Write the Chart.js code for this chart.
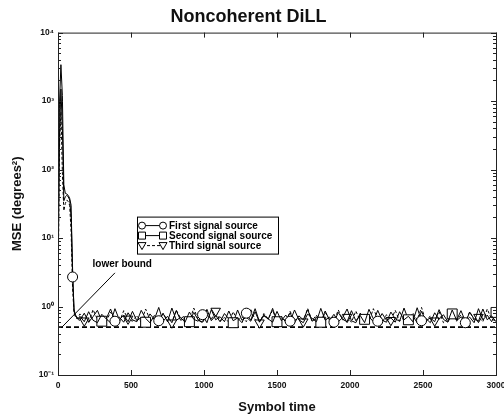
<!DOCTYPE html>
<html>
<head>
<meta charset="utf-8">
<script src="https://cdn.jsdelivr.net/npm/chart.js@4.4.0/dist/chart.umd.min.js"></script>
<style>
  html, body { margin: 0; padding: 0; background: #fff; }
</style>
</head>
<body>
<canvas id="mse" width="504" height="416"></canvas>
<script>
// symbol times: every 10 symbols during acquisition, then every 30
const symbolTime = [
  0, 10, 20, 30, 40, 50, 60, 70, 80, 90, 100, 110, 120, 130, 140,
  150, 180, 210, 240, 270, 300, 330, 360, 390, 420, 450, 480,
  510, 540, 570, 600, 630, 660, 690, 720, 750, 780, 810, 840,
  870, 900, 930, 960, 990, 1020, 1050, 1080, 1110, 1140, 1170, 1200,
  1230, 1260, 1290, 1320, 1350, 1380, 1410, 1440, 1470, 1500, 1530, 1560,
  1590, 1620, 1650, 1680, 1710, 1740, 1770, 1800, 1830, 1860, 1890, 1920,
  1950, 1980, 2010, 2040, 2070, 2100, 2130, 2160, 2190, 2220, 2250, 2280,
  2310, 2340, 2370, 2400, 2430, 2460, 2490, 2520, 2550, 2580, 2610, 2640,
  2670, 2700, 2730, 2760, 2790, 2820, 2850, 2880, 2910, 2940, 2970, 3000
];

// MSE (degrees^2)
const firstSource = [
  4, 900, 3400, 1200, 60, 45, 44, 42, 38, 30, 2.7, 0.9, 0.75, 0.7, 0.66,
  0.72, 0.60, 0.84, 0.63, 0.58, 0.77, 0.66, 0.92, 0.61, 0.70, 0.59, 0.81,
  0.64, 0.60, 0.88, 0.67, 0.58, 0.74, 0.62, 0.79, 0.60, 0.95, 0.63, 0.69,
  0.59, 0.83, 0.65, 0.61, 0.76, 0.58, 0.90, 0.64, 0.71, 0.60, 0.86, 0.62,
  0.68, 0.58, 0.80, 0.63, 0.93, 0.60, 0.73, 0.66, 0.59, 0.85, 0.62, 0.75,
  0.61, 0.89, 0.64, 0.58, 0.78, 0.67, 0.60, 0.94, 0.63, 0.70, 0.59, 0.82,
  0.65, 0.60, 0.87, 0.62, 0.74, 0.58, 0.91, 0.66, 0.61, 0.79, 0.63, 0.68,
  0.59, 0.84, 0.64, 0.72, 0.60, 0.96, 0.62, 0.67, 0.58, 0.81, 0.65, 0.76,
  0.60, 0.89, 0.63, 0.70, 0.58, 0.83, 0.66, 0.61, 0.92, 0.64, 0.73, 0.60
];
const secondSource = [
  2, 300, 1500, 400, 35, 40, 42, 40, 36, 20, 3.5, 0.85, 0.72, 0.68, 0.64,
  0.63, 0.80, 0.59, 0.71, 0.88, 0.61, 0.66, 0.58, 0.93, 0.64, 0.75, 0.60,
  0.85, 0.62, 0.69, 0.59, 0.78, 0.65, 0.97, 0.61, 0.72, 0.58, 0.87, 0.63,
  0.67, 0.60, 0.82, 0.64, 0.59, 0.91, 0.62, 0.74, 0.60, 0.79, 0.66, 0.58,
  0.89, 0.63, 0.70, 0.61, 0.84, 0.59, 0.76, 0.65, 0.94, 0.60, 0.68, 0.62,
  0.81, 0.58, 0.73, 0.64, 0.90, 0.61, 0.67, 0.59, 0.86, 0.63, 0.77, 0.60,
  0.69, 0.92, 0.62, 0.58, 0.80, 0.65, 0.71, 0.60, 0.88, 0.63, 0.59, 0.83,
  0.66, 0.61, 0.95, 0.64, 0.73, 0.58, 0.85, 0.62, 0.68, 0.60, 0.90, 0.65,
  0.59, 0.78, 0.63, 0.87, 0.61, 0.70, 0.58, 0.93, 0.64, 0.75, 0.60, 0.82
];
const thirdSource = [
  1, 200, 700, 90, 25, 32, 36, 34, 30, 12, 1.8, 0.8, 0.7, 0.66, 0.7,
  0.78, 0.62, 0.58, 0.90, 0.65, 0.70, 0.60, 0.83, 0.63, 0.59, 0.87, 0.66,
  0.61, 0.74, 0.59, 0.92, 0.64, 0.68, 0.60, 0.80, 0.62, 0.58, 0.89, 0.67,
  0.73, 0.60, 0.95, 0.63, 0.58, 0.77, 0.65, 0.86, 0.61, 0.69, 0.59, 0.84,
  0.62, 0.71, 0.60, 0.91, 0.64, 0.58, 0.79, 0.66, 0.88, 0.61, 0.72, 0.59,
  0.85, 0.63, 0.67, 0.60, 0.94, 0.62, 0.75, 0.58, 0.82, 0.65, 0.61, 0.89,
  0.64, 0.70, 0.59, 0.86, 0.62, 0.78, 0.60, 0.93, 0.66, 0.58, 0.76, 0.63,
  0.88, 0.61, 0.69, 0.59, 0.81, 0.64, 0.97, 0.60, 0.73, 0.62, 0.85, 0.58,
  0.67, 0.90, 0.61, 0.76, 0.59, 0.84, 0.63, 0.70, 0.60, 0.92, 0.65, 0.62
];
const lowerBound = 0.5;

const seriesNames = ['First signal source', 'Second signal source', 'Third signal source'];
const xTicks = [0, 500, 1000, 1500, 2000, 2500, 3000];
const yTicks = [0.1, 1, 10, 100, 1000, 10000];
const yTickLabels = ['10\u207B\u00B9', '10\u2070', '10\u00B9', '10\u00B2', '10\u00B3', '10\u2074'];

const FONT = "'Liberation Sans', Arial, sans-serif";

// a marker roughly every 300 symbols, like matlab's sparse markers
function markerIndexes(first) {
  const set = new Set();
  for (let t = first; t <= 3000; t += 300) {
    let best = 0;
    symbolTime.forEach((x, i) => {
      if (Math.abs(x - t) < Math.abs(symbolTime[best] - t)) best = i;
    });
    set.add(best);
  }
  return set;
}

function makeSeries(values, label, style, radius, firstMarker, dash) {
  const marks = markerIndexes(firstMarker);
  return {
    label: label,
    data: symbolTime.map((x, i) => ({ x: x, y: values[i] })),
    borderColor: '#000',
    borderWidth: 1,
    borderDash: dash,
    pointStyle: style,
    pointRotation: style === 'triangle' ? 180 : 0,
    pointRadius: ctx => marks.has(ctx.dataIndex) ? radius : 0,
    pointBackgroundColor: '#fff',
    pointBorderColor: '#000',
    pointBorderWidth: 1
  };
}

// box + inward ticks on all sides
const matlabAxes = {
  id: 'matlabAxes',
  afterDatasetsDraw(chart) {
    const { ctx, chartArea: a, scales: { x, y } } = chart;
    ctx.save();
    ctx.strokeStyle = '#222';
    ctx.lineWidth = 1;
    ctx.strokeRect(a.left + 0.5, a.top + 0.5, a.right - a.left, a.bottom - a.top);
    ctx.beginPath();
    xTicks.forEach(v => {
      const px = Math.round(x.getPixelForValue(v)) + 0.5;
      ctx.moveTo(px, a.bottom); ctx.lineTo(px, a.bottom - 5);
      ctx.moveTo(px, a.top); ctx.lineTo(px, a.top + 5);
    });
    for (let e = -1; e <= 4; e++) {
      for (let m = 1; m < 10; m++) {
        if (e === 4 && m > 1) break;
        const py = Math.round(y.getPixelForValue(m * Math.pow(10, e))) + 0.5;
        const len = m === 1 ? 5 : 3;
        ctx.moveTo(a.left, py); ctx.lineTo(a.left + len, py);
        ctx.moveTo(a.right, py); ctx.lineTo(a.right - len, py);
      }
    }
    ctx.stroke();
    ctx.restore();
  }
};

function drawMarker(ctx, style, cx, cy) {
  ctx.beginPath();
  if (style === 'circle') {
    ctx.arc(cx, cy, 3.5, 0, Math.PI * 2);
  } else if (style === 'rect') {
    ctx.rect(cx - 3.5, cy - 3.5, 7, 7);
  } else {
    ctx.moveTo(cx - 4, cy - 3);
    ctx.lineTo(cx + 4, cy - 3);
    ctx.lineTo(cx, cy + 4);
    ctx.closePath();
  }
  ctx.fillStyle = '#fff';
  ctx.fill();
  ctx.stroke();
}

// legend box and the "lower bound" note
const notes = {
  id: 'notes',
  afterDraw(chart) {
    const { ctx, chartArea: a, scales: { x, y } } = chart;
    ctx.save();
    ctx.strokeStyle = '#000';
    ctx.lineWidth = 1;

    const bx = a.left + 79, by = a.top + 184;
    ctx.fillStyle = '#fff';
    ctx.fillRect(bx, by, 141, 37);
    ctx.strokeRect(bx + 0.5, by + 0.5, 141, 37);
    const styles = ['circle', 'rect', 'triangle'];
    styles.forEach((s, i) => {
      const ry = by + 9 + i * 10;
      ctx.setLineDash(i === 2 ? [3, 2] : []);
      ctx.beginPath();
      ctx.moveTo(bx + 5, ry); ctx.lineTo(bx + 26, ry);
      ctx.stroke();
      ctx.setLineDash([]);
      drawMarker(ctx, s, bx + 5, ry);
      drawMarker(ctx, s, bx + 26, ry);
      ctx.fillStyle = '#000';
      ctx.font = 'bold 10px ' + FONT;
      ctx.textBaseline = 'middle';
      ctx.fillText(seriesNames[i], bx + 32, ry + 0.5);
    });

    // arrow from label to the bound line
    ctx.beginPath();
    ctx.moveTo(x.getPixelForValue(390), y.getPixelForValue(3.1));
    ctx.lineTo(x.getPixelForValue(27), y.getPixelForValue(lowerBound));
    ctx.stroke();
    ctx.fillStyle = '#000';
    ctx.font = 'bold 10px ' + FONT;
    ctx.textAlign = 'center';
    ctx.textBaseline = 'middle';
    ctx.fillText('lower bound', x.getPixelForValue(440), y.getPixelForValue(4.1));
    ctx.restore();
  }
};

new Chart(document.getElementById('mse'), {
  type: 'line',
  data: {
    datasets: [
      makeSeries(firstSource, seriesNames[0], 'circle', 5, 100, []),
      makeSeries(secondSource, seriesNames[1], 'rect', 7, 290, []),
      makeSeries(thirdSource, seriesNames[2], 'triangle', 5.5, 190, [3, 2]),
      {
        label: 'lower bound',
        data: [{ x: 0, y: lowerBound }, { x: 3000, y: lowerBound }],
        borderColor: '#000',
        borderWidth: 1.6,
        borderDash: [5, 3],
        pointRadius: 0
      }
    ]
  },
  options: {
    responsive: false,
    animation: false,
    devicePixelRatio: 1,
    layout: { padding: { left: 0, right: 7, top: 0, bottom: 0 } },
    plugins: {
      legend: { display: false },
      tooltip: { enabled: false },
      title: {
        display: true,
        text: 'Noncoherent DiLL',
        color: '#111',
        font: { family: FONT, size: 18, weight: 'bold', lineHeight: 1.2 },
        padding: { top: 6, bottom: 5 }
      }
    },
    scales: {
      x: {
        type: 'linear',
        min: 0,
        max: 3000,
        afterBuildTicks: s => { s.ticks = xTicks.map(v => ({ value: v })); },
        afterFit: s => { s.height = 41; s.paddingLeft = 0; s.paddingRight = 0; },
        grid: { display: false, drawTicks: false },
        border: { display: false },
        ticks: {
          color: '#111',
          padding: 6,
          maxRotation: 0,
          autoSkip: false,
          font: { family: FONT, size: 8.5, weight: 'bold' },
          callback: v => String(v)
        },
        title: {
          display: true,
          text: 'Symbol time',
          color: '#111',
          padding: { top: 0, bottom: 1 },
          font: { family: FONT, size: 13, weight: 'bold' }
        }
      },
      y: {
        type: 'logarithmic',
        min: 0.1,
        max: 10000,
        afterBuildTicks: s => { s.ticks = yTicks.map(v => ({ value: v })); },
        afterFit: s => { s.width = 58; },
        grid: { display: false, drawTicks: false },
        border: { display: false },
        ticks: {
          color: '#111',
          padding: 4,
          font: { family: FONT, size: 8.5, weight: 'bold' },
          callback: v => yTickLabels[yTicks.indexOf(v)]
        },
        title: {
          display: true,
          text: 'MSE (degrees\u00B2)',
          color: '#111',
          padding: { top: 10, bottom: 0 },
          font: { family: FONT, size: 13, weight: 'bold' }
        }
      }
    }
  },
  plugins: [matlabAxes, notes]
});
</script>
</body>
</html>
